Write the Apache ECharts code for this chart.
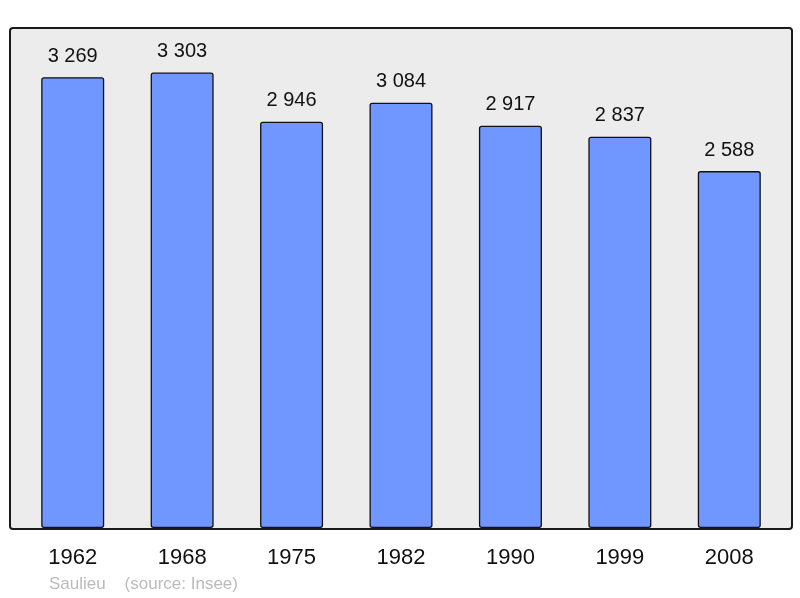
<!DOCTYPE html>
<html lang="fr">
<head>
    <meta charset="UTF-8">
    <title>Saulieu - population</title>
    <script src="https://cdn.jsdelivr.net/npm/echarts@6/dist/echarts.min.js"></script>
    <style>
        body { margin: 0; background: #fff; }
    </style>
</head>
<body>
<div id="main" style="width:800px;height:598px;"></div>
<script>
    // années du recensement
    var annees = ['1962', '1968', '1975', '1982', '1990', '1999', '2008'];
    // population
    var population = [3269, 3303, 2946, 3084, 2917, 2837, 2588];

    // format "3 269"
    function fmt(v) {
        return String(v).replace(/\B(?=(\d{3})+(?!\d))/g, ' ');
    }

    var myChart = echarts.init(document.getElementById('main'));

    var option = {
        backgroundColor: '#ffffff',
        animation: false,
        // cadre gris
        graphic: [
            {
                type: 'rect',
                left: 9, top: 27,
                shape: { width: 782, height: 501, r: 3 },
                style: { fill: '#ececec', stroke: '#1a1a1a', lineWidth: 2 },
                z: -10
            },
            {
                type: 'text',
                left: 49, top: 576,
                style: {
                    text: 'Saulieu    (source: Insee)',
                    fill: '#bbbbbb',
                    font: '17px "Liberation Sans", Arial, sans-serif'
                }
            }
        ],
        grid: {
            left: 18, right: 16, top: 27, bottom: 70
        },
        xAxis: {
            type: 'category',
            data: annees,
            axisLine: { show: false },
            axisTick: { show: false },
            axisLabel: {
                color: '#111',
                fontSize: 22,
                margin: 19,
                fontFamily: '"Liberation Sans", Arial, sans-serif'
            }
        },
        yAxis: {
            type: 'value',
            min: 0,
            max: 3633,
            show: false,
            splitLine: { show: false }
        },
        series: [{
            type: 'bar',
            data: population,
            barWidth: 63,
            itemStyle: {
                color: '#7097ff',
                borderColor: '#111',
                borderWidth: 1.3,
                borderRadius: 2
            },
            label: {
                show: true,
                position: 'top',
                distance: 11,
                color: '#111',
                fontSize: 20,
                fontFamily: '"Liberation Sans", Arial, sans-serif',
                formatter: function (p) { return fmt(p.value); }
            }
        }]
    };

    myChart.setOption(option);
</script>
</body>
</html>
